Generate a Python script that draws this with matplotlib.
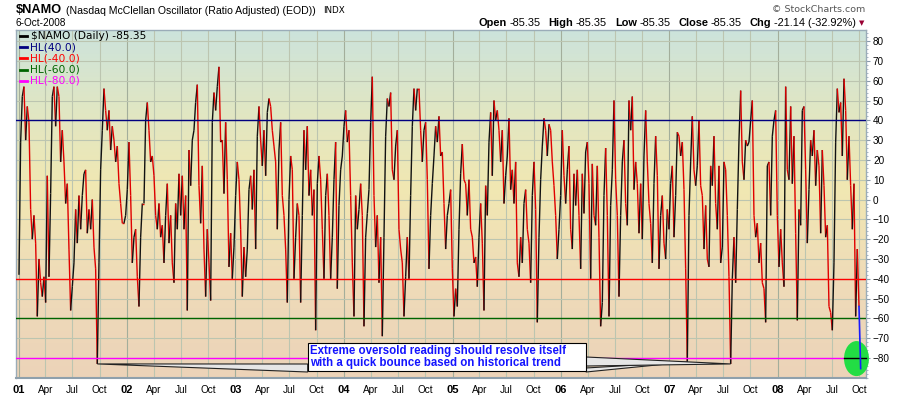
import numpy as np
import pandas as pd
import matplotlib
matplotlib.use('Agg')
import matplotlib.pyplot as plt
import matplotlib.dates as mdates
from matplotlib.collections import LineCollection
from matplotlib.colors import LinearSegmentedColormap
from matplotlib.patches import Ellipse, Rectangle, Polygon

plt.rcParams['font.family'] = ['Liberation Sans', 'DejaVu Sans']

# $NAMO readings, evenly spaced from 2-Jan-2001 to 6-Oct-2008
namo_a = [-38, 29, 52, 57, 30, 47, 39, -5, -20, -8,
          -22, -59, -30, -42, -49, -39, -52, 12, -39, 3,
          52, 57, 37, 57, 52, 19, 35, 19, -2, 8,
          -25, -56, -44, -32, -5, -22, 2, -15, 2, 13,
          15, -17, -5, -15, 0, -24, -35, -83, -32, 15,
          35, 56, 45, 35, 45, 25, 37, 30, 19, 27,
          8, -2, -12, -12, -8, 5, 29, 2, -32, -19,
          -15, -39, -54, -19, -2, -2, 40, 49, 35, 19,
          22, 12, -8, -15, -2]
namo_b = [-19, -13, -32, -8, 8, -22, -8, -32, -42, -2,
          -15, 13, -8, 12, -15, 2, -56, 25, 7, 30,
          35, 49, 58, 7, -12, 17, -25, -49, -15, -32,
          -51, 39, 54, 45, 57, 67, 29, 30, 3, 39,
          10, -34, -17, -40, -24, 2, 19, 10, -15, -49,
          -24, -39, -25, 5, 12, -5, 15, -25, 32, 47,
          30, 17, 35, 12, 44, 51, 47, 35, 27, 19,
          -15, 25, 39, 2, -8, -25, -52, 0, 22, 15,
          -40, -19, -2, -8]
namo_c = [-52, -8, 35, 15, 37, 2, 15, -8, 5, -66,
          8, 22, 10, -15, -40, 2, 13, -8, -40, -19,
          10, 29, -45, -3, 15, 22, 37, 45, 29, 35,
          2, -32, -59, 2, -15, -5, 8, -8, -64, -19,
          -7, 5, 39, 62, 2, -24, -8, -42, -19, -69,
          -19, 32, 51, 47, 54, 15, 10, 27, 35, -15,
          -25, -32, -59, -39, -19, -40, 2, 37, 56, 45,
          56, 56, 35, 19, 35, 39, 10, -35, -8, 8,
          22, 37, 29, 42]
namo_d = [22, 24, -2, -25, -8, -2, 5, -35, -59, -45,
          -54, -15, 13, 28, 10, 8, -8, 10, -15, -19,
          -32, -29, -44, -19, -2, -22, -56, 7, -8, 29,
          44, 12, 50, 40, 45, 35, 19, 35, -2, 12,
          22, 41, 5, 15, -2, 19, -32, -39, -19, -32,
          -2, 5, -15, -22, -42, 2, 19, -5, -62, -19,
          10, 27, 41, 35, 22, 38, 35, 19, 7, -8,
          -30, -15, 2, 35, 12, -2, 15, 27, -15, -25,
          13, -3, 15, -8]
namo_e = [-35, 13, -7, 24, 29, 8, -40, 18, -8, -13,
          17, -19, -64, -52, 2, 26, -8, -59, -3, 15,
          50, 10, -8, -49, -8, 19, 30, -2, -13, 50,
          35, 52, 5, 19, 8, -17, 8, -20, 22, 45,
          19, -2, -12, -32, 8, 32, 12, -35, -8, 2,
          -22, -30, -5, -15, 8, 17, -19, 2, 34, 32,
          22, 29, 5, -35, -82, -8, 19, 42, 15, 7,
          17, 40, 7, 2, -25, -3, -30, -34, 17, 7,
          32, -2, -15, 17]
namo_f = [-32, -24, 19, 15, -8, -39, -83, -40, -19, -42,
          -5, 30, 55, 19, 10, 30, 27, 29, 40, 50,
          -8, -19, -12, -32, -22, -42, -45, -62, 17, 19,
          -8, 32, 40, 45, -8, -34, -15, -32, -44, 57,
          15, 10, 47, 8, 32, -17, -61, -5, -13, 45,
          47, 15, -22, 5, 30, 22, 35, 7, 25, 17,
          -17, 25, 7, -19, -13, -54, -57, -66, -32, 29,
          56, 44, 49, 22, 61, 45, 10, 32, 7, -15,
          8, -59, -25, -54, -85.35]

hl_levels = [40, -40, -60, -80]
hl_colors = ['#000080', '#ff0000', '#006400', '#ff00ff']
hl_names = ['HL(40.0)', 'HL(-40.0)', 'HL(-60.0)', 'HL(-80.0)']

last_val = -85.35
chg, chg_pct = -21.14, -32.92
note = 'Extreme oversold reading should resolve itself\nwith a quick bounce based on historical trend'

W, H = 900, 396
fig = plt.figure(figsize=(W / 100, H / 100), dpi=100)
ax = fig.add_axes([16 / W, 1 - 378 / H, 850 / W, 348 / H])

namo = np.array(namo_a + namo_b + namo_c + namo_d + namo_e + namo_f, dtype=float)
dates = pd.date_range('2001-01-02', '2008-10-06', periods=len(namo))
x = mdates.date2num(dates)

xlim = (mdates.date2num(pd.Timestamp('2000-12-23')), mdates.date2num(pd.Timestamp('2008-10-24')))
ylim = (-90.1, 85.6)

# background gradient
cmap = LinearSegmentedColormap.from_list('bg', [(0.0, '#ecd3b9'), (0.3, '#efdcb8'),
                                                (0.55, '#f1e8b2'), (0.8, '#dee6c6'),
                                                (1.0, '#cce3dc')])
grad = np.linspace(1, 0, 256).reshape(-1, 1)
ax.imshow(grad, extent=[0, 1, 0, 1], transform=ax.transAxes, aspect='auto',
          cmap=cmap, zorder=0, interpolation='bilinear')

# grid
quarters = pd.date_range('2001-01-01', '2008-10-01', freq='QS')
for d in quarters:
    ax.axvline(mdates.date2num(d), color='#a3ae9b' if d.month == 1 else '#bcc5b0',
               lw=0.8, zorder=1)
for v in range(-80, 81, 10):
    ax.axhline(v, color='#bcc5b0', lw=0.8, zorder=1)

# oscillator line: black on up days, red on down days
pts = np.column_stack([x, namo])
segs = np.stack([pts[:-2], pts[1:-1]], axis=1)
cols = np.where(np.diff(namo[:-1]) > 0, '#111111', '#e00000')
ax.add_collection(LineCollection(segs, colors=cols, linewidths=1.0, zorder=3))

for lvl, c in zip(hl_levels, hl_colors):
    ax.axhline(lvl, color=c, lw=1, zorder=3.5)

ax.set_xlim(xlim)
ax.set_ylim(ylim)

# callout box + wedges
def fy(py):
    return (378 - py) / 348

to_ax = ax.transData + ax.transAxes.inverted()
i1 = int(np.argmin(namo_a))
i2 = len(namo_a + namo_b + namo_c + namo_d) + int(np.argmin(namo_e))
i3 = len(namo) - len(namo_f) + int(np.argmin(namo_f[:20]))
tip1, tip2, tip3 = (to_ax.transform((x[i], namo[i])) for i in (i1, i2, i3))
bx0, bx1 = (307.7 - 16) / 850, (586 - 16) / 850
for poly in ([tip1, (bx0, fy(364)), (bx0, fy(372))],
             [(bx1, fy(368)), (bx1, fy(372)), tip2],
             [(bx1, fy(357)), (bx1, fy(366)), tip3]):
    ax.add_patch(Polygon(poly, closed=True, transform=ax.transAxes, fc='#e6e6e6',
                         ec='#222222', lw=0.8, zorder=4))
ax.add_patch(Rectangle((bx0, fy(370.7)), bx1 - bx0, fy(343.3) - fy(370.7),
                       transform=ax.transAxes, fc='white', ec='black', lw=0.8, zorder=4.5))
ax.text((310 - 16) / 850, fy(357), note, transform=ax.transAxes, color='#1414ff',
        fontsize=8.3, fontweight='bold', va='center', ha='left', linespacing=1.05, zorder=5)

# green marker on the last reading
ax.add_patch(Ellipse((x[-1] - 14, -80.3), 84, 17.7, fc='#22dd44', ec='none',
                     zorder=5, clip_on=False))
ax.plot([x[-1] - 56, x[-1] + 17], [-80, -80], color='black', lw=1, zorder=6, clip_on=False)
ax.plot(x[-2:], namo[-2:], color='#1a1aff', lw=1.2, zorder=7, clip_on=False)

# axes styling
for s in ax.spines.values():
    s.set_color('#9aacb8')
    s.set_linewidth(1)
ax.spines['bottom'].set_linewidth(1.5)
ax.spines['bottom'].set_color('#8fa0ac')

ax.yaxis.tick_right()
ax.set_yticks(range(-80, 81, 10))
ax.set_yticks(np.arange(-90, 86, 2), minor=True)
ax.tick_params(axis='y', which='major', length=3, pad=2, labelsize=7.2, color='#8899aa')
ax.tick_params(axis='y', which='minor', length=1.5, color='#99aabb')

ax.set_xticks(mdates.date2num(quarters))
ax.set_xticklabels([d.strftime('%y') if d.month == 1 else d.strftime('%b') for d in quarters])
ax.tick_params(axis='x', length=0, pad=5, labelsize=7.2)
for lab, d in zip(ax.get_xticklabels(), quarters):
    if d.month == 1:
        lab.set_fontweight('bold')
        lab.set_fontsize(8)

# legend
leg_rows = [('$NAMO (Daily) %.2f' % last_val, 'black')] + list(zip(hl_names, hl_colors))
for k, (txt, c) in enumerate(leg_rows):
    yy = 1 - (36 + 11.2 * k) / H
    fig.add_artist(plt.Line2D([19.5 / W, 27 / W], [yy, yy], color=c, lw=2))
    fig.text((29.5 if k else 31) / W, yy, txt, color=c, fontsize=7.7, va='center',
             family='DejaVu Sans')

# header
fig.text(16 / W, 1 - 10 / H, '$NAMO', fontsize=9.2, fontweight='bold', va='center')
fig.text(66 / W, 1 - 10.5 / H, '(Nasdaq McClellan Oscillator (Ratio Adjusted) (EOD))',
         fontsize=7.6, va='center')
fig.text(323 / W, 1 - 10.5 / H, 'INDX', fontsize=6.3, va='center', family='DejaVu Sans')
fig.text(16 / W, 1 - 23.3 / H, dates[-1].strftime('%-d-%b-%Y'), fontsize=7.2, va='center')
fig.text(865 / W, 1 - 10 / H, '\u00a9 StockCharts.com', fontsize=6.8, va='center',
         ha='right', color='#555555', family='DejaVu Sans')

runs = [('Open', True, 2.5), ('%.2f' % last_val, False, 8), ('High', True, 2.5),
        ('%.2f' % last_val, False, 8), ('Low', True, 2.5), ('%.2f' % last_val, False, 8),
        ('Close', True, 2.5), ('%.2f' % last_val, False, 8), ('Chg', True, 2.5),
        ('%.2f (%.2f%%)' % (chg, chg_pct), False, 0)]
r = fig.canvas.get_renderer()
items = [fig.text(0, 1 - 23.3 / H, s, fontsize=7.9, va='center',
                  fontweight='bold' if b else 'normal') for s, b, g in runs]
widths = [t.get_window_extent(r).width for t in items]
px = 856 - sum(widths) - sum(g for s, b, g in runs)
for t, w, (s, b, g) in zip(items, widths, runs):
    t.set_x(px / W)
    px += w + g
fig.text(861.5 / W, 1 - 23.5 / H, '\u25bc', fontsize=5, color='#990033', va='center',
         ha='center', family='DejaVu Sans')

fig.savefig('out.png', dpi=100)
